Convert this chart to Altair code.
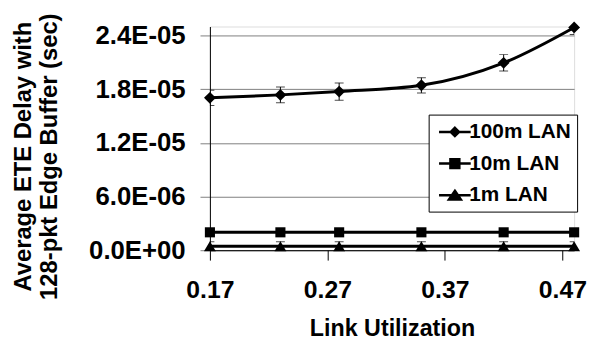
import altair as alt
import pandas as pd

# ---- data ----
series_names = ["100m LAN", "10m LAN", "1m LAN"]
x_util = [0.17, 0.23, 0.28, 0.35, 0.42, 0.48]
delay_100m = [1.703e-5, 1.736e-5, 1.773e-5, 1.843e-5, 2.094e-5, 2.49e-5]
err_100m = [8.5e-7, 8.8e-7, 9.7e-7, 8.5e-7, 9.2e-7, 8.0e-7]
delay_10m = [2.0e-6, 2.0e-6, 2.0e-6, 2.0e-6, 2.0e-6, 2.0e-6]
err_10m = [3e-7, 3e-7, 3e-7, 3e-7, 3e-7, 3e-7]
delay_1m = [4.5e-7, 4.5e-7, 4.5e-7, 4.5e-7, 4.5e-7, 4.5e-7]
err_1m = [5e-7, 5e-7, 5e-7, 5e-7, 5e-7, 5e-7]

x_ticks = [0.17, 0.27, 0.37, 0.47]
y_ticks = [0, 6e-6, 1.2e-5, 1.8e-5, 2.4e-5]
y_tick_labels = ["0.0E+00", "6.0E-06", "1.2E-05", "1.8E-05", "2.4E-05"]

rows = []
for name, vals, errs in [("100m LAN", delay_100m, err_100m),
                         ("10m LAN", delay_10m, err_10m),
                         ("1m LAN", delay_1m, err_1m)]:
    for xv, v, e in zip(x_util, vals, errs):
        rows.append({"series": name, "x": xv, "y": v, "lo": v - e, "hi": v + e})
df = pd.DataFrame(rows)

FONT = "Liberation Sans"

# marker shapes (unit paths)
chart_paths = [
    "M0,-1L1,0L0,1L-1,0Z",
    "M-0.85,-0.85H0.85V0.85H-0.85Z",
    "M0,-0.85L1,0.85H-1Z",
]
legend_paths = [
    "M-0.7,0H2.5M0.9,-0.42L1.32,0L0.9,0.42L0.48,0Z",
    "M-0.7,0H2.5M0.45,-0.45H1.35V0.45H0.45Z",
    "M-0.7,0H2.5M0.9,-0.45L1.5,0.42H0.3Z",
]
black3 = ["black", "black", "black"]

label_expr = "[" + ",".join("'" + s + "'" for s in y_tick_labels) + "][round(datum.value/6e-6)]"

xscale = alt.Scale(domain=[0.17, 0.48], nice=False, zero=False)
yscale = alt.Scale(domain=[0, 2.5e-5], nice=False)

x_enc = alt.X("x:Q", scale=xscale, axis=alt.Axis(
    values=x_ticks, format=".2f", grid=False, tickSize=10, tickColor="black",
    domainColor="black", labelFont=FONT, labelFontWeight="bold", labelFontSize=25,
    labelColor="black", labelPadding=18, title="Link Utilization", titleFont=FONT,
    titleFontWeight="bold", titleFontSize=23.5, titleColor="black",
    titleY=86, titleBaseline="alphabetic", labelFlush=False))
y_enc = alt.Y("y:Q", scale=yscale, axis=alt.Axis(
    values=y_ticks, labelExpr=label_expr, grid=True, gridColor="#808080",
    tickSize=10, tickColor="#808080", domainColor="black",
    labelFont=FONT, labelFontWeight="bold", labelFontSize=26, labelColor="black",
    labelPadding=15, title=["Average ETE Delay with", "128-pkt Edge Buffer (sec)"],
    titleFont=FONT, titleFontWeight="bold", titleFontSize=24, titleColor="black",
    titleX=-200, titleY=131, titleAngle=-90, titleAlign="center", titleBaseline="top",
    titleLineHeight=26))

base = alt.Chart(df)

lines = base.mark_line(color="black", strokeWidth=3, interpolate="monotone").encode(
    x=x_enc, y=y_enc, detail="series:N")

err_rule = base.mark_rule(color="black", strokeWidth=1, clip=True).encode(
    x="x:Q", y="lo:Q", y2="hi:Q")
cap_lo = base.mark_tick(orient="horizontal", size=9, thickness=1, color="black", clip=True).encode(
    x="x:Q", y="lo:Q")
cap_hi = base.mark_tick(orient="horizontal", size=9, thickness=1, color="black", clip=True).encode(
    x="x:Q", y="hi:Q")

points = base.mark_point(filled=True, size=144, opacity=1, color="black").encode(
    x="x:Q", y="y:Q",
    shape=alt.Shape("series:N", scale=alt.Scale(domain=series_names, range=chart_paths), legend=None))

leg = alt.Legend(title=None, orient="none", legendX=221, legendY=89,
                 padding=6, rowPadding=10, labelOffset=12,
                 labelFont=FONT, labelFontWeight="bold", labelFontSize=21,
                 labelColor="black", strokeColor="black", fillColor="white",
                 symbolSize=400, symbolOpacity=1,
                 symbolFillColor="black", symbolStrokeColor="black",
                 symbolStrokeWidth=2.5)

legend_layer = base.transform_filter("false").mark_point(
    filled=True, size=400, opacity=1, strokeWidth=2.5).encode(
    x="x:Q", y="y:Q",
    shape=alt.Shape("series:N", scale=alt.Scale(domain=series_names, range=legend_paths), legend=leg),
    fill=alt.Fill("series:N", scale=alt.Scale(domain=series_names, range=black3), legend=leg),
    stroke=alt.Stroke("series:N", scale=alt.Scale(domain=series_names, range=black3), legend=leg))

chart = alt.layer(lines, err_rule, cap_lo, cap_hi, points, legend_layer).resolve_scale(
    shape="independent", fill="independent", stroke="independent"
).properties(
    width=368, height=226,
    padding={"left": 204, "top": 17, "right": 14, "bottom": 89},
    autosize=alt.AutoSizeParams(type="none"),
).configure_view(stroke="#808080", strokeWidth=1).configure(background="white")

chart.save("out.html", embed_options={"renderer": "svg", "actions": False})
